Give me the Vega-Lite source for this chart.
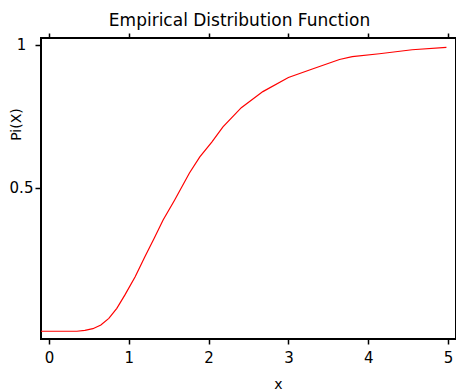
{
  "$schema": "https://vega.github.io/schema/vega-lite/v6.json",
  "width": 415,
  "height": 301,
  "autosize": {"type": "none"},
  "padding": {"left": 41, "top": 38, "right": 0, "bottom": 51},
  "background": "white",
  "title": {
    "text": "Empirical Distribution Function",
    "font": "DejaVu Sans",
    "fontSize": 17,
    "fontWeight": "normal",
    "color": "#000",
    "anchor": "middle",
    "frame": "group",
    "baseline": "alphabetic",
    "offset": 11,
    "dx": -9,
    "dy": 22
  },
  "config": {
    "view": {"stroke": "#000", "strokeWidth": 2},
    "axis": {
      "domain": false,
      "grid": false,
      "tickColor": "#000",
      "tickWidth": 1.5,
      "labelFont": "DejaVu Sans",
      "labelFontSize": 15,
      "labelColor": "#000",
      "titleFont": "DejaVu Sans",
      "titleFontSize": 14,
      "titleFontWeight": "normal",
      "titleColor": "#000"
    }
  },
  "data": {
    "values": [
      {"x": -0.1, "p": 0},
      {"x": 0.35, "p": 0},
      {"x": 0.45, "p": 0.003},
      {"x": 0.55, "p": 0.009},
      {"x": 0.65, "p": 0.022},
      {"x": 0.75, "p": 0.045},
      {"x": 0.85, "p": 0.08},
      {"x": 0.95, "p": 0.126},
      {"x": 1.08, "p": 0.19},
      {"x": 1.2, "p": 0.259},
      {"x": 1.32, "p": 0.325},
      {"x": 1.43, "p": 0.388},
      {"x": 1.575, "p": 0.458},
      {"x": 1.76, "p": 0.552},
      {"x": 1.89, "p": 0.608},
      {"x": 2.04, "p": 0.66},
      {"x": 2.18, "p": 0.713},
      {"x": 2.41, "p": 0.78},
      {"x": 2.68, "p": 0.836},
      {"x": 3.0, "p": 0.885},
      {"x": 3.3, "p": 0.915},
      {"x": 3.64, "p": 0.948},
      {"x": 3.8, "p": 0.958},
      {"x": 4.14, "p": 0.968},
      {"x": 4.55, "p": 0.982},
      {"x": 4.98, "p": 0.99}
    ]
  },
  "layer": [
    {
      "mark": {"type": "line", "color": "#ff0000", "strokeWidth": 1.2, "clip": true},
      "encoding": {
        "x": {
          "field": "x",
          "type": "quantitative",
          "scale": {"domain": [-0.1, 5.1], "nice": false, "zero": false},
          "axis": {
            "orient": "bottom",
            "title": "x",
            "values": [0, 1, 2, 3, 4, 5],
            "format": "d",
            "tickSize": 5,
            "labelPadding": 6,
            "labelFlush": false,
            "titleX": 237,
            "titleY": 49,
            "titleAlign": "center",
            "titleBaseline": "alphabetic"
          }
        },
        "y": {
          "field": "p",
          "type": "quantitative",
          "scale": {"domain": [-0.027, 1.023], "nice": false, "zero": false},
          "axis": {
            "title": "Pi(X)",
            "values": [0.5, 1],
            "format": "~g",
            "tickSize": 6,
            "labelAlign": "center",
            "labelBaseline": "middle",
            "labelPadding": 14,
            "labelFlush": false,
            "titleX": -25,
            "titleY": 86,
            "titleAngle": -90,
            "titleAlign": "center",
            "titleBaseline": "middle"
          }
        }
      }
    },
    {
      "mark": {"type": "line", "opacity": 0},
      "encoding": {
        "x": {
          "field": "x",
          "type": "quantitative",
          "scale": {"domain": [-0.1, 5.1], "nice": false, "zero": false},
          "axis": {
            "orient": "top",
            "title": null,
            "labels": false,
            "values": [0, 1, 2, 3, 4, 5],
            "tickSize": 5
          }
        },
        "y": {"field": "p", "type": "quantitative"}
      }
    }
  ],
  "resolve": {"axis": {"x": "independent"}}
}
